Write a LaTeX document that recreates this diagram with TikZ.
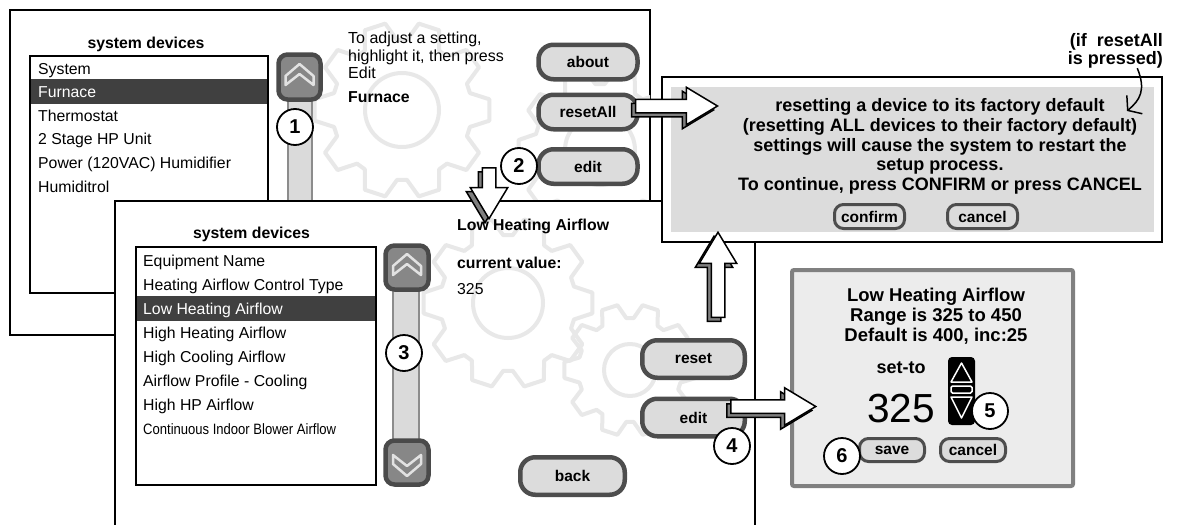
\documentclass[tikz,border=0pt]{standalone}
\usepackage{fontspec}
\setmainfont{Liberation Sans}
\usetikzlibrary{shapes.arrows,shadows,calc,arrows.meta}

\definecolor{btnfill}{HTML}{DCDCDC}
\definecolor{btnline}{HTML}{4D4D4D}
\definecolor{rowdark}{HTML}{404040}
\definecolor{scrollfill}{HTML}{878787}
\definecolor{scrollline}{HTML}{4A4A4A}
\definecolor{trackfill}{HTML}{DADADA}
\definecolor{trackline}{HTML}{8C8C8C}
\definecolor{gearcol}{HTML}{E8E8E8}
\definecolor{popfill}{HTML}{ECECEC}
\definecolor{popline}{HTML}{808080}
\definecolor{arrowshade}{HTML}{7F7F7F}
\definecolor{chevcol}{HTML}{E2E2E2}

\newcommand{\fsz}[1]{\fontsize{#1}{#1}\selectfont}
\newcommand{\drawgear}[5]{%
  \draw[gearstroke] (#1,#2) circle[radius=#5];
  \draw[gearstroke] ($(#1,#2)+(-14:#3)$)
    \foreach \a in {0,36,...,324}{
      -- ($(#1,#2)+(\a-14:#3)$) -- ($(#1,#2)+(\a-7:#4)$)
      -- ($(#1,#2)+(\a+7:#4)$) -- ($(#1,#2)+(\a+14:#3)$)} -- cycle;
}
\newcommand{\chevup}[2]{\draw[chevstroke,shift={(#1,#2)}] (-14,-1.5) -- (0,-13.5) -- (14,-1.5) -- (14,7.5) -- (0,-3.5) -- (-14,7.5) -- cycle;}
\newcommand{\chevdown}[2]{\draw[chevstroke,shift={(#1,#2)}] (-14,1.5) -- (0,13.5) -- (14,1.5) -- (14,-7.5) -- (0,3.5) -- (-14,-7.5) -- cycle;}

\begin{document}
\begin{tikzpicture}[x=1pt,y=-1pt,
  panel/.style={draw=black,fill=white,line width=2pt},
  listbox/.style={draw=black,fill=white,line width=1.5pt},
  devitem/.style={anchor=base west,inner sep=0pt,font=\fsz{15.8}},
  title/.style={anchor=base,inner sep=0pt,font=\bfseries\fsz{15.8}},
  label/.style={anchor=base west,inner sep=0pt,font=\bfseries\fsz{15.8}},
  btn/.style={draw=btnline,fill=btnfill,line width=4.5pt,rounded corners=15pt,minimum width=99pt,minimum height=34.5pt,inner sep=0pt,font=\bfseries\fsz{15.5}},
  smallbtn/.style={draw=btnline,fill=btnfill,line width=3pt,rounded corners=9pt,minimum width=70pt,minimum height=24pt,inner sep=0pt,font=\bfseries\fsz{15.5}},
  scrollbtn/.style={draw=scrollline,fill=scrollfill,line width=4.5pt,rounded corners=9pt},
  track/.style={draw=trackline,fill=trackfill,line width=1.5pt},
  gearstroke/.style={draw=gearcol,line width=4pt,line join=round},
  chevstroke/.style={draw=chevcol,line width=2.5pt,line join=round},
  numcirc/.style={circle,draw=black,fill=white,line width=1.8pt,minimum size=36pt,inner sep=0pt,font=\bfseries\fsz{20}},
  blockarrow/.style={single arrow,draw=black,fill=white,line width=1.5pt,inner sep=0pt,
    text height=12pt,text depth=0pt,single arrow head extend=12pt,single arrow tip angle=62,
    general shadow={fill=arrowshade,draw=black,line width=1.5pt,shadow xshift=-4pt,shadow yshift=-4pt}}
]
\useasboundingbox (0,0) rectangle (1187,525);
\fill[white] (0,0) rectangle (1187,525);

\filldraw[panel] (10,10) rectangle (650,335);
\begin{scope}
  \clip (10,10) rectangle (650,335);
  \drawgear{402}{110}{70}{88}{37}
  \drawgear{600}{150}{66}{82}{35}
\end{scope}
\node[title] (titleA) at (146,48) {system devices};
\draw[listbox] (30,56) rectangle (268,293);
\fill[rowdark] (31,79) rectangle (267,104);
\foreach \y/\txt [count=\i] in {74/System,121.2/Thermostat,144.8/2 Stage HP Unit,168.4/Power (120VAC) Humidifier,192/Humiditrol}
  \node[devitem] (devA\i) at (38,\y) {\txt};
\node[devitem,text=white] (furnace) at (38,97.6) {Furnace};
\filldraw[track] (288,100) rectangle (312,215);
\filldraw[scrollbtn] (278.5,54.5) rectangle (320.5,99.5);
\chevup{299.5}{77.5}
\node[anchor=north west,inner sep=0pt,align=left,font=\fontsize{16}{17.7}\selectfont] (hint) at (348,31.6) {To adjust a setting,\\highlight it, then press\\Edit};
\node[label] (curdev) at (348,102) {Furnace};
\node[btn] (about) at (588,62) {about};
\node[btn] (resetAll) at (588,112) {resetAll};
\node[btn] (editA) at (588,166.5) {edit};

\filldraw[panel] (115,201) rectangle (755,540);
\begin{scope}
  \clip (115,201) rectangle (755,540);
  \drawgear{508}{303}{68}{85}{35}
  \drawgear{630}{370}{52}{66}{26}
\end{scope}
\node[title] (titleB) at (251.5,238) {system devices};
\draw[listbox] (136,247) rectangle (376,485);
\fill[rowdark] (137,296) rectangle (375,321);
\foreach \y/\txt [count=\i] in {266/Equipment Name,290.1/Heating Airflow Control Type,338.3/High Heating Airflow,362.4/High Cooling Airflow,386.5/Airflow Profile - Cooling,410.6/High HP Airflow}
  \node[devitem] (devB\i) at (143,\y) {\txt};
\node[devitem,text=white] (lowheat) at (143,314.2) {Low Heating Airflow};
\node[devitem,font=\fsz{15}] (blower) at (143,434.7) {\scalebox{0.87}[1]{Continuous Indoor Blower Airflow}};
\filldraw[track] (393,290) rectangle (419,440);
\filldraw[scrollbtn] (385.5,245.5) rectangle (428.5,289.5);
\filldraw[scrollbtn] (385.5,440.5) rectangle (428.5,484.5);
\chevup{407}{267.5}
\chevdown{407}{462.5}
\node[label] (setname) at (457,230) {Low Heating Airflow};
\node[label] (curlabel) at (457,268) {current value:};
\node[devitem] (curval) at (457,294) {325};
\node[btn,minimum width=102.5pt,minimum height=37.5pt] (resetB) at (693.5,359) {reset};
\node[btn,minimum width=102.5pt,minimum height=37.5pt] (editB) at (693.5,417.5) {edit};
\node[btn,minimum width=104.5pt,minimum height=37.5pt] (back) at (572.5,476) {back};

\filldraw[panel] (662,77) rectangle (1162,242);
\fill[btnfill] (671,87) rectangle (1154,232);
\node[anchor=north,inner sep=0pt,align=center,font=\bfseries\fontsize{18}{19.9}\selectfont] (warnmsg) at (940,98) {resetting a device to its factory default\\(resetting ALL devices to their factory default)\\settings will cause the system to restart the\\setup process.\\To continue, press CONFIRM or press CANCEL};
\node[smallbtn] (confirm) at (869.5,216.5) {confirm};
\node[smallbtn] (cancelA) at (982.5,216.5) {cancel};

\node[anchor=north east,inner sep=0pt,align=right,font=\bfseries\fontsize{18}{18}\selectfont] (ifnote) at (1163,33) {(if~~resetAll\\is pressed)};
\coordinate (noteTip) at (1127,111);
\draw[line width=1.5pt,-{Straight Barb[length=9pt,width=24pt]}] ([xshift=22pt]ifnote.south) .. controls +(9,22) and (1140,100) .. (noteTip);

\filldraw[draw=popline,fill=popfill,line width=4pt,rounded corners=2pt] (792,270) rectangle (1073,486);
\node[anchor=north,inner sep=0pt,align=center,font=\bfseries\fontsize{18.5}{20}\selectfont] (popinfo) at (936,287.5) {Low Heating Airflow\\Range is 325 to 450\\Default is 400, inc:25};
\node[title,font=\bfseries\fsz{18}] (setto) at (901,373) {set-to};
\node[devitem,font=\fsz{40.6}] (setval) at (867,422) {325};
\fill[black,rounded corners=4pt] (948,357) rectangle (975,425);
\draw[white,line width=1.5pt,line join=round] (951,382) -- (961.5,363) -- (972,382) -- cycle;
\draw[white,line width=1.5pt,rounded corners=1.5pt] (951,386) rectangle (972,393);
\draw[white,line width=1.5pt,line join=round] (951,397) -- (961.5,418) -- (972,397) -- cycle;
\node[smallbtn,minimum width=65pt,minimum height=23pt] (save) at (892,450) {save};
\node[smallbtn,minimum width=65pt,minimum height=23pt] (cancelB) at (973,450) {cancel};

\node[blockarrow,minimum height=82pt,anchor=tail] (toWarn) at ([shift={(-5,-6)}]resetAll.east) {};
\node[blockarrow,rotate=-90,minimum height=51pt,anchor=tail] (toValue) at (489,167) {};
\node[blockarrow,rotate=90,minimum height=85pt,anchor=tail] (upWarn) at (718,318) {};
\node[blockarrow,minimum height=85pt,anchor=tail] (toPopup) at ([shift={(-17,-11)}]editB.east) {};

\node[numcirc] (n1) at (295,127) {1};
\node[numcirc] (n2) at (519,166) {2};
\node[numcirc] (n3) at (404,353) {3};
\node[numcirc] (n4) at (732,446) {4};
\node[numcirc] (n5) at (990,411) {5};
\node[numcirc] (n6) at (842,456) {6};
\end{tikzpicture}
\end{document}
